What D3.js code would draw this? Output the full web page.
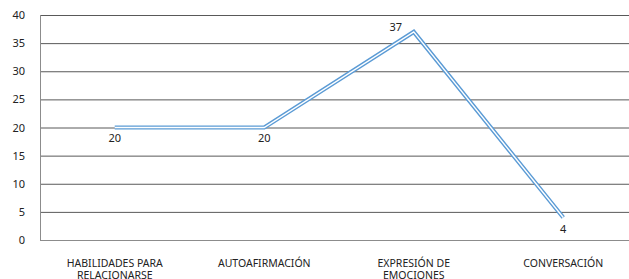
<!DOCTYPE html>
<html><head><meta charset="utf-8">
<script src="https://cdn.jsdelivr.net/npm/d3@7"></script>
<style>html,body{margin:0;padding:0;background:#fff;}svg{display:block;font-family:"Noto Sans",sans-serif;}</style>
</head><body><svg id="c" width="629" height="279"></svg>
<script>
const categories = [["HABILIDADES PARA","RELACIONARSE"],["AUTOAFIRMACIÓN"],["EXPRESIÓN DE","EMOCIONES"],["CONVERSACIÓN"]];
const values = [20, 20, 37, 4];
const yTicks = [0,5,10,15,20,25,30,35,40];

(function(){
const svg = d3.select("#c");
const mLeft = 40, mRight = 638, mTop = 15, mBottom = 240;
const x = d3.scaleBand().domain(d3.range(categories.length)).range([mLeft, mRight]);
const y = d3.scaleLinear().domain([0, 40]).range([mBottom, mTop]);

svg.append("g").selectAll("line").data(yTicks).join("line")
  .attr("x1", mLeft).attr("x2", mRight)
  .attr("y1", d => y(d) + 0.5).attr("y2", d => y(d) + 0.5)
  .attr("stroke", d => d === 0 ? "#8c8c8c" : "#595959").attr("stroke-width", 1);
svg.append("line").attr("x1", mLeft + 0.5).attr("x2", mLeft + 0.5).attr("y1", mTop).attr("y2", mBottom + 0.5)
  .attr("stroke", "#8c8c8c");

const yAxis = svg.append("g").attr("transform", `translate(${mLeft},0)`)
  .call(d3.axisLeft(y).tickValues(yTicks).tickSize(0).tickPadding(15));
yAxis.select(".domain").remove();
yAxis.selectAll("text").attr("font-size", 11).attr("fill", "#222").attr("font-family", "'Noto Sans',sans-serif");

const xl = svg.append("g").selectAll("text").data(categories).join("text")
  .attr("x", (d, i) => x(i) + x.bandwidth() / 2).attr("y", 266.5)
  .attr("text-anchor", "middle").attr("font-size", 10.5).attr("fill", "#222");
xl.selectAll("tspan").data(d => d).join("tspan")
  .attr("x", function(){ return d3.select(this.parentNode).attr("x"); })
  .attr("dy", (d, i) => i === 0 ? 0 : 12.5).text(d => d);

const line = d3.line().x((d, i) => x(i) + x.bandwidth() / 2).y(d => y(d));
svg.append("path").datum(values).attr("d", line).attr("fill", "none")
  .attr("stroke", "#5b9bd5").attr("stroke-width", 4.2).attr("stroke-linejoin", "miter");
svg.append("path").datum(values).attr("d", line).attr("fill", "none")
  .attr("stroke", "#fff").attr("stroke-width", 1.4).attr("stroke-linejoin", "miter");

const offs = [[0, 14], [0, 14], [-18, -1], [0, 15]];
svg.append("g").selectAll("text").data(values).join("text")
  .attr("x", (d, i) => x(i) + x.bandwidth() / 2 + offs[i][0])
  .attr("y", (d, i) => y(d) + offs[i][1])
  .attr("text-anchor", "middle").attr("font-size", 11).attr("fill", "#222").text(d => d);
})();
</script></body></html>
